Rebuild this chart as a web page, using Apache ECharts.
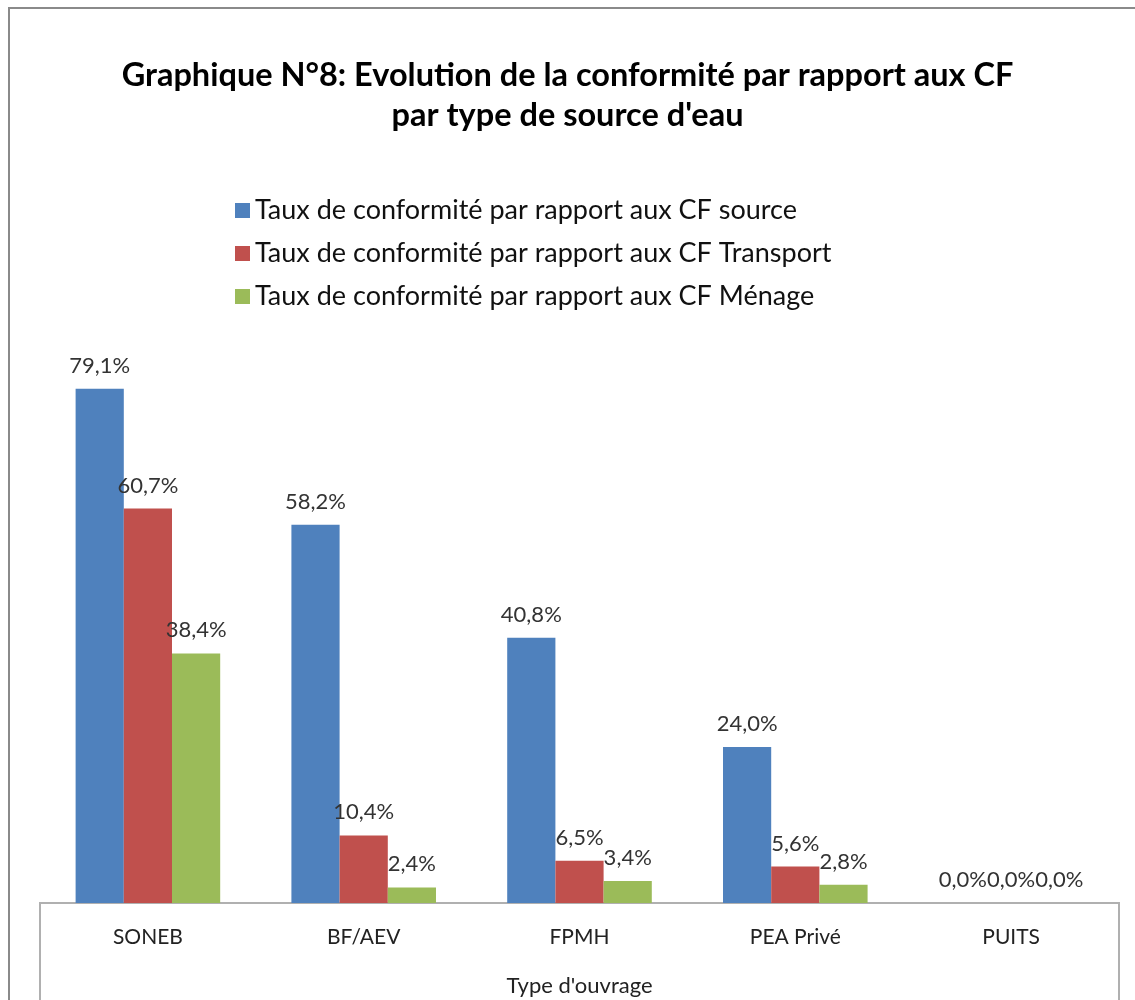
<!DOCTYPE html>
<html lang="fr">
  <head>
    <meta charset="UTF-8" />
    <title>Graphique N°8</title>
    <script src="https://cdn.jsdelivr.net/npm/echarts@6/dist/echarts.min.js"></script>
    <style>
      html, body { margin: 0; padding: 0; background: #fff; }
      #main { width: 1135px; height: 1000px; }
    </style>
  </head>
  <body>
    <div id="main"></div>
    <script>
      var categories = ["SONEB", "BF/AEV", "FPMH", "PEA Privé", "PUITS"];
      var seriesNames = [
        "Taux de conformité par rapport aux CF source",
        "Taux de conformité par rapport aux CF Transport",
        "Taux de conformité par rapport aux CF Ménage",
      ];
      var source = [79.1, 58.2, 40.8, 24.0, 0.0];
      var transport = [60.7, 10.4, 6.5, 5.6, 0.0];
      var menage = [38.4, 2.4, 3.4, 2.8, 0.0];
      var colors = ["#4F81BD", "#C0504D", "#9BBB59"];

      var font = "Lato, 'Open Sans', sans-serif";

      function pct(p) {
        return p.value.toFixed(1).replace(".", ",") + "%";
      }

      function makeSeries(name, data, color) {
        return {
          name: name,
          type: "bar",
          data: data,
          barGap: "0%",
          barCategoryGap: "33%",
          itemStyle: { color: color },
          label: {
            show: true,
            position: "top",
            distance: 12,
            formatter: pct,
            fontFamily: font,
            fontSize: 22,
            color: "#333",
          },
        };
      }

      var chart = echarts.init(document.getElementById("main"));
      var option = {
        animation: false,
        color: colors,
        title: {
          text: "Graphique N°8: Evolution de la conformité par rapport aux CF\npar type de source d'eau",
          left: "center",
          top: 51,
          textStyle: {
            fontFamily: font,
            fontWeight: "bold",
            fontSize: 32.5,
            lineHeight: 40,
            color: "#000",
          },
        },
        legend: {
          orient: "vertical",
          left: 230,
          top: 192,
          itemWidth: 15,
          itemHeight: 15,
          itemGap: 16,
          icon: "rect",
          textStyle: { fontFamily: font, fontSize: 27, lineHeight: 24, color: "#111" },
          data: seriesNames,
        },
        grid: { left: 40, right: 16, top: 318, bottom: 97, outerBoundsMode: "none", containLabel: false },
        xAxis: {
          type: "category",
          data: categories,
          axisLine: { show: false },
          axisTick: { show: false },
          axisLabel: { fontFamily: font, fontSize: 21, color: "#222", margin: 24 },
          name: "Type d'ouvrage",
          nameLocation: "middle",
          nameGap: 72,
          nameTextStyle: { fontFamily: font, fontSize: 22, color: "#222" },
        },
        yAxis: {
          type: "value",
          min: 0,
          max: 90,
          show: false,
        },
        graphic: [
          {
            type: "rect",
            shape: { x: 9, y: 8, width: 1200, height: 1100 },
            style: { fill: "none", stroke: "#8a8a8a", lineWidth: 2 },
            silent: true,
          },
          {
            type: "rect",
            shape: { x: 40, y: 903, width: 1079, height: 130 },
            style: { fill: "none", stroke: "#b0b0b0", lineWidth: 2 },
            silent: true,
          },
        ],
        series: [
          makeSeries(seriesNames[0], source, colors[0]),
          makeSeries(seriesNames[1], transport, colors[1]),
          makeSeries(seriesNames[2], menage, colors[2]),
        ],
      };
      chart.setOption(option);
    </script>
  </body>
</html>
